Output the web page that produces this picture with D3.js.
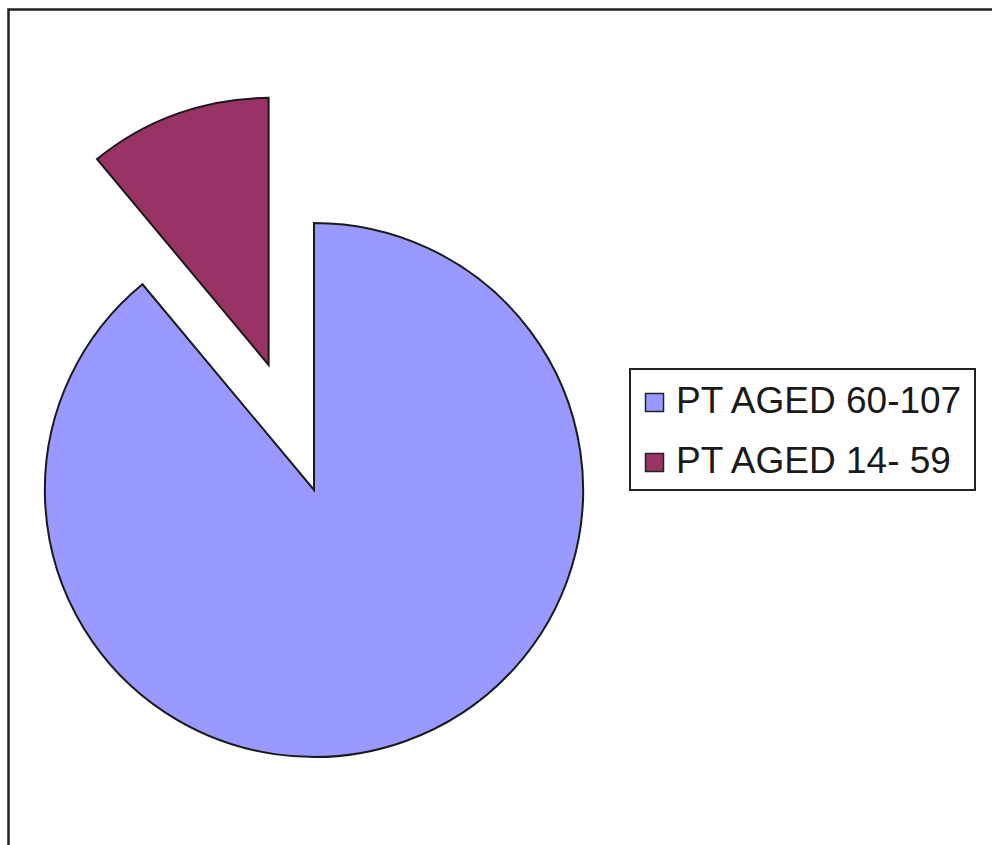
<!DOCTYPE html>
<html>
<head>
<meta charset="utf-8">
<script src="https://cdn.jsdelivr.net/npm/d3@7"></script>
<style>
  body { margin: 0; background: #fff; }
  svg { display: block; }
</style>
</head>
<body>
<svg id="canvas" width="992" height="845"></svg>
<script>
// datos del grafico
const categorias = ["PT AGED 60-107", "PT AGED 14- 59"]
const valores = [89, 11]
const colores = ["#9999FF", "#993366"]
const separado = [0, 1]   // la rebanada que sale del pastel

const svg = d3.select("#canvas")

// marco de la imagen (solo se ve arriba y a la izquierda)
svg.append("path")
    .attr("d", "M8.5,845 L8.5,9.5 L992,9.5")
    .attr("fill", "none")
    .attr("stroke", "#222")
    .attr("stroke-width", 2.5)

const cx = 314, cy = 490, radio = 267, salto = 133

// pastel que empieza en las 12, va en sentido horario
const pie = d3.pie().sort(null)
    .startAngle(-2 * Math.PI)
    .endAngle(0)
const arcos = pie(valores)
const arc = d3.arc().innerRadius(0).outerRadius(radio)

const g = svg.append("g")
    .attr("transform", `translate(${cx},${cy}) scale(1.008,1)`)

g.selectAll("path")
    .data(arcos)
    .enter()
    .append("path")
    .attr("d", arc)
    .attr("fill", (d, i) => colores[i])
    .attr("stroke", "#1a1a1a")
    .attr("stroke-width", 2)
    .attr("stroke-linejoin", "miter")
    .attr("transform", (d, i) => {
        if (!separado[i]) return null
        const m = (d.startAngle + d.endAngle) / 2
        return `translate(${Math.sin(m) * salto},${-Math.cos(m) * salto})`
    })

// leyenda
const ley = svg.append("g").attr("transform", "translate(630,369)")
ley.append("rect")
    .attr("x", 0).attr("y", 0)
    .attr("width", 345).attr("height", 121)
    .attr("fill", "#fff")
    .attr("stroke", "#222")
    .attr("stroke-width", 2)

const filas = ley.selectAll("g.fila")
    .data(categorias)
    .enter()
    .append("g")
    .attr("class", "fila")
    .attr("transform", (d, i) => `translate(0,${i * 60})`)

filas.append("rect")
    .attr("x", 15.5).attr("y", 24.5)
    .attr("width", 18).attr("height", 18)
    .attr("fill", (d, i) => colores[i])
    .attr("stroke", "#222")
    .attr("stroke-width", 1.5)

filas.append("text")
    .attr("x", 46).attr("y", 44)
    .attr("font-family", "'Liberation Sans', Arial, sans-serif")
    .attr("font-size", 37)
    .attr("fill", "#1a1a1a")
    .text(d => d)
</script>
</body>
</html>
